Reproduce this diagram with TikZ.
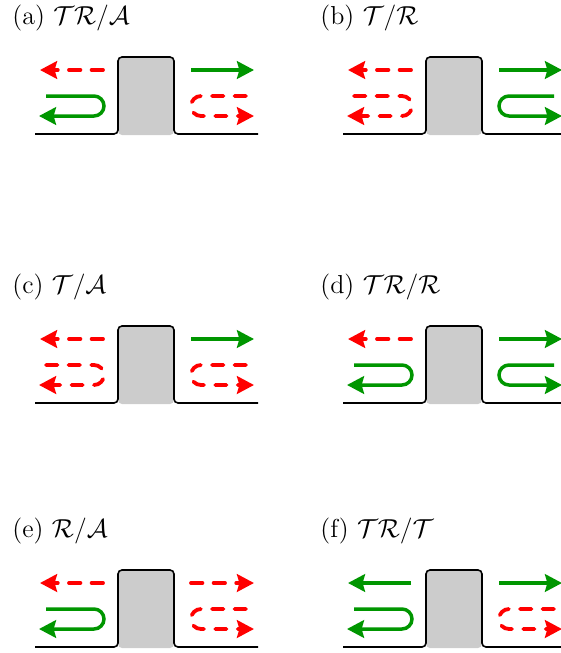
\RequirePackage{fix-cm}
\documentclass[tikz,border=0pt]{standalone}
\usetikzlibrary{arrows.meta}
\definecolor{ggreen}{RGB}{0,150,0}
\definecolor{rred}{RGB}{255,0,0}
\definecolor{bgray}{RGB}{204,204,204}
\tikzset{
  g/.style={draw=ggreen, line width=1.75pt, -{Stealth[length=8.5pt,width=8.8pt,inset=1.2pt]}},
  r/.style={draw=rred, line width=1.9pt, line cap=round, dash pattern=on 5.7pt off 5.6pt, -{Stealth[length=8.5pt,width=8.8pt,inset=1.2pt]}},
  wall/.style={draw=black, line width=0.8pt, rounded corners=2pt},
  lbl/.style={anchor=base west, inner sep=0pt, font=\fontsize{13}{16}\selectfont},
}
\newcommand\drawpanel[7]{%
  \begin{scope}[shift={#1}]
    \fill[bgray, rounded corners=2pt] (118,135) -- (118,57) -- (174,57) -- (174,135) -- cycle;
    \draw[wall] (35,134) -- (118,134) -- (118,57) -- (174,57) -- (174,134) -- (258,134);
    \node[lbl] (#2) at (12,24.5) {#3};
    \draw[#4] (103,70) -- (40,70);
    \draw[#5, rounded corners=5pt] (46,96) -- (104,96) -- (104,116) -- (39,116);
    \draw[#6] (191,70) -- (254,70);
    \draw[#7, rounded corners=5pt] (246,96) -- (191,96) -- (191,116) -- (254,116);
  \end{scope}}
\begin{document}
\begin{tikzpicture}[x=0.5pt,y=-0.5pt]
\useasboundingbox (0,0) rectangle (561,653);
\drawpanel{(0,0)}{la}{(a) $\mathcal{TR}/\mathcal{A}$}{r}{g}{g}{r}
\drawpanel{(308,0)}{lb}{(b) $\mathcal{T}/\mathcal{R}$}{r}{r}{g}{g}
\drawpanel{(0,269)}{lc}{(c) $\mathcal{T}/\mathcal{A}$}{r}{r}{g}{r}
\drawpanel{(308,269)}{ld}{(d) $\mathcal{TR}/\mathcal{R}$}{r}{g}{g}{g}
\drawpanel{(0,513)}{le}{(e) $\mathcal{R}/\mathcal{A}$}{r}{g}{r}{r}
\drawpanel{(308,513)}{lf}{(f) $\mathcal{TR}/\mathcal{T}$}{g}{g}{g}{r}
\end{tikzpicture}
\end{document}
